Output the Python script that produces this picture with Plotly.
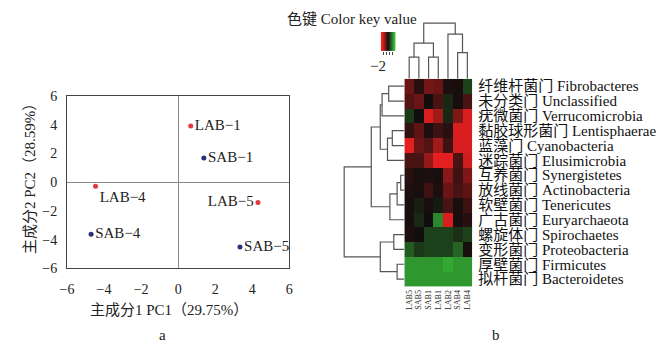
import plotly.graph_objects as go

W, H = 667, 351
SERIF = "Liberation Serif, Times New Roman, Noto Sans CJK SC, serif"

# ---------------- Panel a: PCA ----------------
pca_labels = ["LAB−1", "SAB−1", "LAB−4", "SAB−4", "LAB−5", "SAB−5"]
pca_x = [0.68, 1.39, -4.46, -4.70, 4.31, 3.34]
pca_y = [3.92, 1.68, -0.29, -3.63, -1.42, -4.52]
pca_group = ["LAB", "SAB", "LAB", "SAB", "LAB", "SAB"]
pca_textpos = ["middle right", "middle right", "bottom right",
               "middle right", "middle left", "middle right"]
group_colors = {"LAB": "#e03a3e", "SAB": "#2b2f7a"}
pca_ticks = [-6, -4, -2, 0, 2, 4, 6]

# ---------------- Panel b: heatmap ----------------
phyla = [
    "纤维杆菌门 Fibrobacteres",
    "未分类门 Unclassified",
    "疣微菌门 Verrucomicrobia",
    "黏胶球形菌门 Lentisphaerae",
    "蓝藻门 Cyanobacteria",
    "迷踪菌门 Elusimicrobia",
    "互养菌门 Synergistetes",
    "放线菌门 Actinobacteria",
    "软壁菌门 Tenericutes",
    "广古菌门 Euryarchaeota",
    "螺旋体门 Spirochaetes",
    "变形菌门 Proteobacteria",
    "厚壁菌门 Firmicutes",
    "拟杆菌门 Bacteroidetes",
]
samples = ["LAB5", "SAB5", "SAB1", "LAB1", "LAB2", "SAB4", "LAB4"]
abund = [
    [0.8, 0.2, 0.9, 0.8, 0.1, 0.05, -0.6],
    [0.6, 0.8, 0.0, 0.5, -0.3, 0.05, 0.5],
    [-0.5, 0.0, 1.8, 1.3, -0.3, 1.0, 1.8],
    [0.3, 0.7, 0.1, 0.4, 0.2, 1.8, 1.8],
    [1.9, 0.8, 0.6, 1.3, 0.4, 1.8, 1.8],
    [0.5, 0.5, 1.2, 1.9, 1.9, 0.5, 1.7],
    [0.2, 0.05, 0.1, 0.05, 1.1, 0.4, 1.0],
    [0.1, 0.05, 0.4, 0.1, 0.8, 0.5, 0.7],
    [0.05, -0.2, 0.05, -0.15, 0.5, 0.05, 0.4],
    [0.05, -0.3, 0.0, -1.4, 1.8, 0.05, 0.2],
    [0.1, 0.0, -0.6, -0.6, -0.6, -0.4, -0.6],
    [-0.9, -0.5, -0.6, -0.6, -0.6, -1.0, 0.05],
    [-1.6, -1.6, -1.6, -1.6, -1.8, -1.6, -1.6],
    [-1.6, -1.6, -1.6, -1.6, -1.6, -1.6, -1.6],
]
# linkage tables (scipy style: child a, child b, height)
row_merges = [
    (0, 1, 2.6), (14, 2, 3.7), (3, 4, 2.0), (16, 5, 2.8), (15, 17, 4.0),
    (6, 7, 0.6), (19, 8, 1.2), (20, 9, 2.4), (18, 21, 5.5),
    (10, 11, 1.75), (12, 13, 1.2), (23, 24, 4.0), (22, 25, 10.0),
]
col_merges = [
    (0, 1, 3.9), (2, 3, 3.9), (7, 8, 6.4), (5, 6, 4.7), (4, 10, 8.0), (9, 11, 10.0),
]
key_vals = [2, 1, 0, -1, -2]
key_ticks = [0.6, 1.6, 2.6, 3.6]

colorscale = [[0.0, "rgb(55,185,55)"], [0.5, "rgb(18,14,14)"], [1.0, "rgb(238,32,32)"]]


def dendro_lines(merges, n):
    pos = {i: float(i) for i in range(n)}
    hgt = {i: 0.0 for i in range(n)}
    p, h = [], []
    for k, (a, b, ht) in enumerate(merges):
        pa, pb = pos[a], pos[b]
        p += [pa, pa, pb, pb, None]
        h += [hgt[a], ht, ht, hgt[b], None]
        pos[n + k] = (pa + pb) / 2
        hgt[n + k] = ht
    return p, h


def px(x):
    return x / W


def py(y):
    return 1 - y / H


fig = go.Figure()

# PCA points
for g in ["LAB", "SAB"]:
    idx = [i for i, gg in enumerate(pca_group) if gg == g]
    fig.add_trace(go.Scatter(
        x=[pca_x[i] for i in idx], y=[pca_y[i] for i in idx],
        text=[pca_labels[i] for i in idx],
        textposition=[pca_textpos[i] for i in idx],
        mode="markers+text",
        marker=dict(size=5, color=group_colors[g]),
        textfont=dict(family=SERIF, size=15, color="#222"),
        xaxis="x", yaxis="y", showlegend=False, cliponaxis=False,
    ))

# heatmap
fig.add_trace(go.Heatmap(
    z=abund, x=list(range(len(samples))), y=list(range(len(phyla))),
    colorscale=colorscale, zmin=-2, zmax=2, showscale=False,
    xaxis="x2", yaxis="y2", xgap=0, ygap=0,
))

# row dendrogram
rp, rh = dendro_lines(row_merges, len(phyla))
fig.add_trace(go.Scatter(x=rh, y=rp, mode="lines",
                         line=dict(color="#555", width=1.2),
                         xaxis="x3", yaxis="y3", showlegend=False, hoverinfo="skip"))
# column dendrogram
cp, ch = dendro_lines(col_merges, len(samples))
fig.add_trace(go.Scatter(x=cp, y=ch, mode="lines",
                         line=dict(color="#555", width=1.2),
                         xaxis="x4", yaxis="y4", showlegend=False, hoverinfo="skip"))

# color key
fig.add_trace(go.Heatmap(
    z=[key_vals], x=list(range(len(key_vals))), y=[0],
    colorscale=colorscale, zmin=-2, zmax=2, showscale=False, zsmooth="best",
    xaxis="x5", yaxis="y5",
))

axis_font = dict(family=SERIF, size=14, color="#222")
tick_text = [("−" + str(-t)) if t < 0 else str(t) for t in pca_ticks]


def ann(text, x, y, size=15, **kw):
    d = dict(text=text, x=px(x), y=py(y), xref="paper", yref="paper",
             xanchor="center", yanchor="middle", showarrow=False,
             font=dict(family=SERIF, size=size, color="#222"))
    d.update(kw)
    return d


fig.update_layout(
    width=W, height=H, margin=dict(l=0, r=0, t=0, b=0),
    paper_bgcolor="white", plot_bgcolor="white",
    font=dict(family=SERIF, color="#222"),
    xaxis=dict(domain=[px(61), px(287)], range=[-6, 6], tickvals=pca_ticks,
               ticktext=tick_text,
               showgrid=False, zeroline=True, zerolinecolor="#888", zerolinewidth=1,
               showline=True, mirror=True, linecolor="#444", linewidth=1,
               ticks="", ticklabelstandoff=8, tickfont=axis_font, anchor="y"),
    yaxis=dict(domain=[py(273), py(93)], range=[-6, 6], tickvals=pca_ticks,
               ticktext=tick_text,
               showgrid=False, zeroline=True, zerolinecolor="#888", zerolinewidth=1,
               showline=True, mirror=True, linecolor="#444", linewidth=1,
               ticks="", ticklabelstandoff=6, tickfont=axis_font, anchor="x"),
    xaxis2=dict(domain=[px(404), px(473)], range=[-0.5, len(samples) - 0.5],
                tickvals=list(range(len(samples))), ticktext=samples, tickangle=-90,
                tickfont=dict(family=SERIF, size=8, color="#222"), ticks="",
                ticklabelstandoff=1, showgrid=False, zeroline=False, anchor="y2"),
    yaxis2=dict(domain=[py(292), py(75)], range=[len(phyla) - 0.5, -0.5],
                tickvals=list(range(len(phyla))), ticktext=phyla, side="right",
                tickfont=dict(family=SERIF, size=15, color="#111"), ticks="",
                ticklabelstandoff=5, showgrid=False, zeroline=False, anchor="x2"),
    xaxis3=dict(domain=[px(341), px(404)], range=[10.3, 0], visible=False, anchor="y3"),
    yaxis3=dict(domain=[py(292), py(75)], range=[len(phyla) - 0.5, -0.5],
                visible=False, anchor="x3"),
    xaxis4=dict(domain=[px(404), px(473)], range=[-0.5, len(samples) - 0.5],
                visible=False, anchor="y4"),
    yaxis4=dict(domain=[py(75), py(15)], range=[0, 10.3], visible=False, anchor="x4"),
    xaxis5=dict(domain=[px(380), px(395)], range=[-0.5, len(key_vals) - 0.5],
                tickvals=key_ticks, ticktext=["", "", "", ""], ticks="outside",
                ticklen=3, tickcolor="#444", tickwidth=1, showgrid=False,
                zeroline=False, anchor="y5"),
    yaxis5=dict(domain=[py(46), py(26)], range=[-0.5, 0.5], visible=False, anchor="x5"),
    annotations=[
        ann("主成分1 PC1（29.75%）", 165, 317),
        ann("主成分2 PC2（28.59%）", 24, 176, textangle=-90),
        ann("a", 158, 343),
        ann("b", 497, 343),
        ann("色键 Color key value", 283, 13, xanchor="left"),
        ann("−2", 377, 62),
    ],
)

fig.write_html("out.html")
